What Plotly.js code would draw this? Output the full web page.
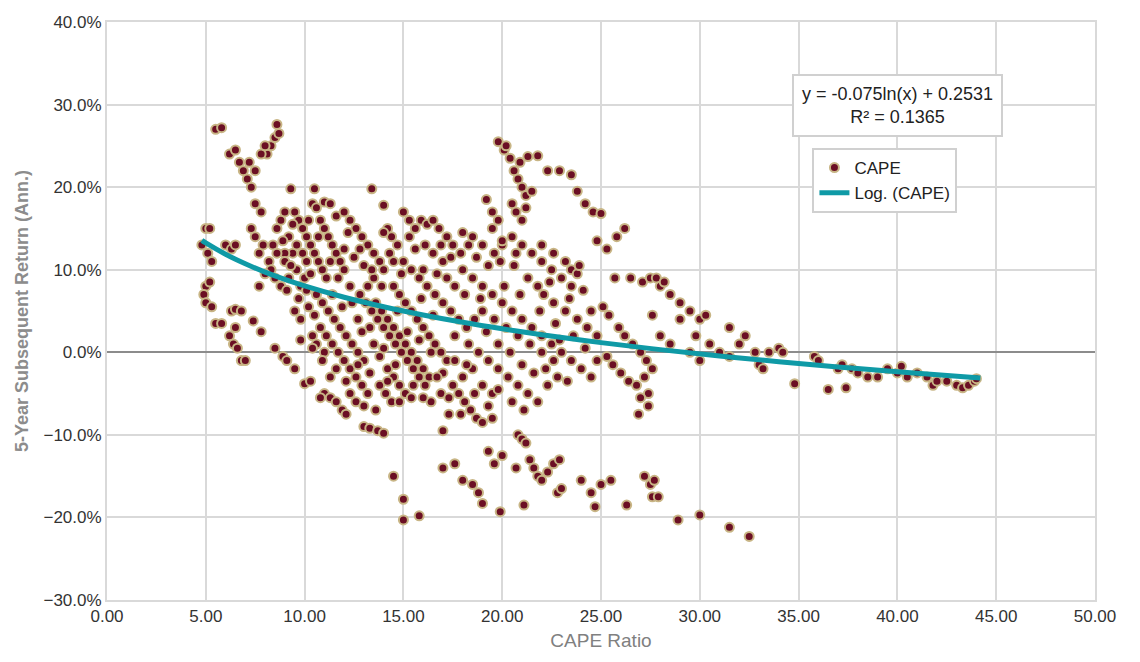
<!DOCTYPE html>
<html><head><meta charset="utf-8">
<script src="https://cdn.plot.ly/plotly-3.0.1.min.js"></script>
<style>html,body{margin:0;padding:0;background:#fff}#chart{width:1140px;height:662px}</style>
</head><body><div id="chart"></div>
<script>
// CAPE ratio vs 5-year subsequent return (%)
const capePts = [
[4.8,13],[5,15],[5.2,15],[5.1,12],[5.3,11],[5,8],[5.2,8.5],[4.9,7],[5,6],[5.3,5.5],[5.5,3.5],[5.8,3.5],[5.5,27],[5.8,27.2],[6,13],[6.3,12.5],[6.5,13],[6.2,24],[6.5,24.5],[6.7,23],[6.3,5],[6.5,5.2],[6.8,5],[6.2,2],[6.4,1],[6.6,0.5],[6.8,-1],[7,-1],[6.5,3],[6.9,22],[7.1,21],[7.3,20],[7.2,23],[7.5,22],[7.5,18],[7.8,17],[7.3,15],[7.5,14],[7.7,12],[7.9,13],[8.1,24],[8.3,25],[8.5,26],[8.6,27.6],[8.7,26.5],[7.8,24],[8.0,25],[7.4,3.8],[7.8,2.5],[8.5,0.5],[8.9,-0.5],[9.1,-1],[9.5,-2],[10,-3.8],[10.3,-3.5],
[8.2,11],[8.4,13],[8.6,15],[8.8,16],[9,17],[9.2,14],[9.4,12],[9.6,10],[9.8,8],[10,9],[8.5,9],[8.8,8],[9.1,7.5],[9.3,19.8],[9.5,17],[9.7,16],[9.9,15],[10.1,14],[10.3,13],[10.5,12],[10.7,11],[10.9,10],[11.1,9],[10.2,16],[10.4,18],[10.6,17.5],[10.8,16],[11,15],[11.2,14],[11.4,13],[11.6,12],[11.8,11],[12,10],[10.5,19.8],[11,18.2],[11.3,18],[11.6,16.5],[12,17],[12.3,16],[12.6,15],[12.9,14],[13.2,13],[13.5,12],[13.8,11],[8.3,10],[9.0,12],[9.6,13],[10.1,11],[10.6,7],[10.9,6],[11.2,5],[11.5,4],[11.8,3],[12.1,2],[12.4,1],[12.7,0],[13,-1],[10.8,3],[11.1,2],[11.4,1],[11.7,0],[12,-1],[12.3,-2],[12.6,-3],[12.9,-4],[13.2,-5],[11,-5],[11.3,-5.5],[11.6,-6],[11.9,-7],[12.1,-7.5],[12.3,-5],[12.6,-6],[13,-9],[13.3,-9.2],[13.7,-9.5],[14,-9.8],
[13.4,19.8],[14.0,17.8],[14.2,15],[14.4,14],[14.7,13],[15,17],[15.3,16],[15.6,15],[15.9,16],[16.2,15.5],[16.5,16],[16.8,15],[17.2,14],[15,11],[15.4,10],[15.8,9],[16.2,8],[16.6,7],[17,6],[17.4,5],[17.8,4],[18.2,3],[14.5,8],[14.8,7],[15.1,6],[15.4,5],[15.7,4],[16,3],[16.3,2],[16.6,1],[16.9,0],[17.2,-1],[13.6,6],[13.9,5],[14.2,4],[14.5,3],[14.8,2],[15.1,1],[15.4,0],[15.7,-1],[16,-2],[16.3,-3],[12.8,7],[13.1,6],[13.4,5],[13.7,4],[14,3],[14.3,2],[14.6,1],[14.9,0],[15.2,-1],[15.5,-2],[15.8,-3],[16.1,-4],[14.2,-2],[14.5,-3],[14.8,-4],[15.1,-5],[15.4,-5.5],[13.8,-4],[14.1,-5],[14.4,-6],
[17.5,-4],[17.8,-5],[18.1,-6],[18.4,-7],[18.7,-8],[19,-8.5],[19.5,-8],[17,-9.5],[14.5,-15],[15,-17.8],[15,-20.3],[15.8,-19.8],[17,-14],[17.6,-13.5],[18,-15.5],[18.5,-16],[18.8,-17],[19,-18.3],[19.3,-12],[19.6,-13.5],[20,-12.5],[19.9,-19.3],[20.7,-14],[20.8,-10],[21,-10.5],[21.2,-11],[21.4,-13],[21.6,-14],[21.8,-15],[22,-15.5],[22.3,-14.5],[22.6,-13.5],[22.9,-13],[21.1,-18.5],[22.8,-17],[23,-16.5],[24,-15.5],[24.5,-17],[25,-16],[25.5,-15.5],[24.7,-18.7],[26.3,-18.5],[27.2,-15],[27.5,-16],[27.7,-15.5],[27.6,-17.5],[27.9,-17.5],[28.9,-20.3],[30,-19.7],[31.5,-21.2],[32.5,-22.3],
[17.5,13],[18,14.5],[18.5,14],[19,13],[19.5,15],[20,13],[20.5,14],[21,13],[21.5,12],[22,13],[19.8,25.5],[20.1,24.5],[20.4,23.5],[20.6,22],[20.8,21],[21,20],[21.2,19],[20.5,18],[20.7,17],[21,16],[21.3,23.7],[21.8,23.8],[22.3,22],[22.9,22],[23.5,21.5],[20.2,25],[20.9,23],[19.5,17],[19.8,16],[21.5,19.5],[21.2,17.5],[19.2,18.5],[20,13.5],[22,11],[22.5,10],[23,9],[23.5,8],[23.8,19.5],[24.2,18],[24.6,17],[25,16.8],[25.8,14],[26.2,15],[24.8,13.5],[25.3,12.5],[25.7,9],[26.5,9],[27.1,8.5],[27.5,9],[27.6,4.5],[23.2,11],[23.5,10],[23.8,9.5],[22.1,7],[22.6,6],[23.2,5],[23.8,4],[24.3,3],[24.8,2],[25.1,5.5],[25.4,4.5],[25.9,3],[26.2,2],[26.6,1],[27,0],[27.3,-1],[27.6,-2],[25.3,-0.5],[25.6,-1.5],[26,-2.5],[26.4,-3.5],[26.8,-4],[27.2,-3],[27.4,-5],[27.4,-6.5],[26.9,-7.5],[27,-5.5],
[18,10],[18.5,9],[19,8],[19.5,7],[20,6],[20.5,5],[21,4],[21.5,3],[22,2],[22.5,1],[23,0],[23.5,-1],[24,-2],[24.5,-3],[18.3,1],[18.8,0],[19.3,-1],[19.8,-2],[20.3,-3],[20.8,-4],[21.3,-5],[21.8,-6],[22.3,-4],[22.8,-3],[23.3,-3.5],[19,5],[19.6,4],[20.2,3],[20.8,2],[21.4,1],[22,0],[22.6,-1],[17.2,9],[17.6,8],[18.1,7],[16.5,12],[17,11],[16,10],[16.4,-6],[16.9,-5],[17.3,-7.5],[18,-3],[18.5,-2],[19,-4],[19.5,-5],[12,12.5],[12.5,11.5],[13,10.5],[13.5,9],[14,10],[14.5,11],[12.3,8],[12.7,4],[13.3,3],[9.5,5],[9.8,4],[10.2,5.5],[10.4,2],[10.6,1],[11,0],[10.8,-5.5],[9,11],[8.6,12],[9.2,9],[7.7,8],[8,9.5],
[28,8],[28.5,7],[29,6],[29.5,5],[30,4],[30.3,4.5],[29.8,2],[30.5,1],[31,0],[31.5,-0.5],[29,4],[28,2],[28.5,1],[29.5,0],[30,-1],[31.5,3],[32,1],[32.3,2],[32.8,0],[33,-1.5],[33.2,-2],[33.5,0],[34,0.5],[34.2,0],[34.8,-3.8],[35.8,-0.5],[36,-1],[36.5,-4.5],[37,-2],[37.2,-1.5],[37.4,-4.3],[37.7,-2],[38,-2.5],[38.5,-3],[39,-3],[39.5,-2],[40,-2.5],[40.2,-1.7],[40.5,-3],[41,-2.5],[41.5,-3],[41.8,-4],[42,-3.5],[42.5,-3.5],[43,-4],[43.3,-4.3],[43.6,-4],[43.9,-3.5],[44,-3.2],[27.8,9],[28.2,8.5],
// denser core
[8.9,13.5],[9.4,15.5],[9.9,12],[10.3,9.5],[10.7,14],[11.3,11],[11.7,9],[12.2,14.5],[12.8,12.5],[13.4,10],[13.9,8],[14.3,12],[14.9,9.5],[15.6,12.5],[16.1,13],[16.7,9.5],[17.4,11.5],[17.9,12],[18.7,11.5],[19.3,10.5],[19.9,11],[20.6,10.5],[21.3,9],[21.8,8],[22.4,8.5],[9.3,10.5],[9.7,6.5],[10.1,7.5],[10.5,4.5],[11.4,7],[11.9,5.5],[12.4,6],[12.9,2.5],[13.5,1],[14,0.5],[14.6,-1.5],[15.2,2.5],[15.8,1.5],[16.4,0],[17,-2.5],[17.6,-1],[18.2,-1.5],[18.6,4],[19.2,2.5],[19.8,1],[20.4,0],[21,-1.5],[21.6,-2.5],[22.2,-2],[22.9,1.5],[23.6,2],[24.2,0.5],[24.8,-1],[11.6,-2],[12.1,-3.5],[12.7,-1.5],[13.3,-2.5],[13.8,-0.5],[13,-6.5],[13.6,-7],[14.2,-3.5],[14.8,-6],[15.5,-4],[16,-5.5],[16.7,-3],[17.3,-5.5],[17.9,-7.5],[18.6,-5],[19.3,-6.5],[19.8,-4.5],[20.5,-6],[21.1,-7],[10.4,0.5],[10.9,-1],[11.3,-3],[9.8,1.5],[13.2,8],[14.7,5],[15.9,6.5],[16.5,4.5],[17.6,2],[18.9,6.5],[20.1,8],[20.9,7],[21.9,5],[22.7,3.5],[23.4,6.5],[24.1,7.5],[24.5,5],[19.6,12],[20.7,12],[22.6,12],[23.9,10.5],[16.9,13],[18.3,13],[15.3,14],[14,14.5]
];
const capeX = capePts.map(p => p[0]);
const capeY = capePts.map(p => p[1]);

// log trendline y = -0.075 ln(x) + 0.2531, in %
const trendX = [4.8,5,6,7,8,9,10,12,14,16,18,20,22,25,28,31,34,37,40,44.2];
const trendY = [13.55,13.24,11.87,10.72,9.71,8.83,8.04,6.67,5.52,4.52,3.63,2.84,2.13,1.17,0.32,-0.45,-1.14,-1.77,-2.36,-3.11];

const FONT = "'Liberation Sans Narrow', 'Liberation Sans', Arial, sans-serif";

Plotly.newPlot("chart", [
  {
    type: "scatter", mode: "markers", name: "CAPE",
    x: capeX, y: capeY,
    marker: { size: 9, color: "#6b0f24", line: { color: "#c8b585", width: 2 } }
  },
  {
    type: "scatter", mode: "lines", name: "Log. (CAPE)",
    x: trendX, y: trendY,
    line: { color: "#0f9aa6", width: 5, shape: "spline" }
  }
], {
  width: 1140, height: 662,
  margin: { l: 107, r: 45, t: 22, b: 62 },
  paper_bgcolor: "#fff", plot_bgcolor: "#fff",
  font: { family: FONT, size: 17, color: "#333" },
  showlegend: true,
  legend: {
    x: 0.714, y: 0.782, xanchor: "left", yanchor: "top",
    bgcolor: "#fff", bordercolor: "#d0d0d0", borderwidth: 2,
    font: { size: 17, color: "#222" }, tracegroupgap: 0
  },
  xaxis: {
    range: [0, 50], dtick: 5, tickformat: ".2f",
    showgrid: true, gridcolor: "#d9d9d9", gridwidth: 2,
    zeroline: false, showline: true, linecolor: "#d9d9d9", linewidth: 2, mirror: true,
    ticks: "", tickfont: { size: 17, color: "#333" },
    title: { text: "CAPE Ratio", font: { size: 19, color: "#808080" }, standoff: 8 }
  },
  yaxis: {
    range: [-30, 40], dtick: 10, tickformat: ".1f", ticksuffix: "%",
    showgrid: true, gridcolor: "#d9d9d9", gridwidth: 2,
    zeroline: true, zerolinecolor: "#8c8c8c", zerolinewidth: 2,
    showline: true, linecolor: "#d9d9d9", linewidth: 2, mirror: true,
    ticks: "", tickfont: { size: 17, color: "#333" },
    title: { text: "<b>5-Year Subsequent Return (Ann.)</b>", font: { size: 18, color: "#8c8c8c" }, standoff: 10 }
  },
  annotations: [{
    xref: "paper", yref: "paper", x: 0.80, y: 0.855, xanchor: "center", yanchor: "middle",
    text: "y = -0.075ln(x) + 0.2531<br>R² = 0.1365", showarrow: false,
    font: { size: 18, color: "#222" }, align: "center",
    bgcolor: "#fff", bordercolor: "#d0d0d0", borderwidth: 2, borderpad: 8
  }]
}, { displayModeBar: false, staticPlot: true });
</script></body></html>
